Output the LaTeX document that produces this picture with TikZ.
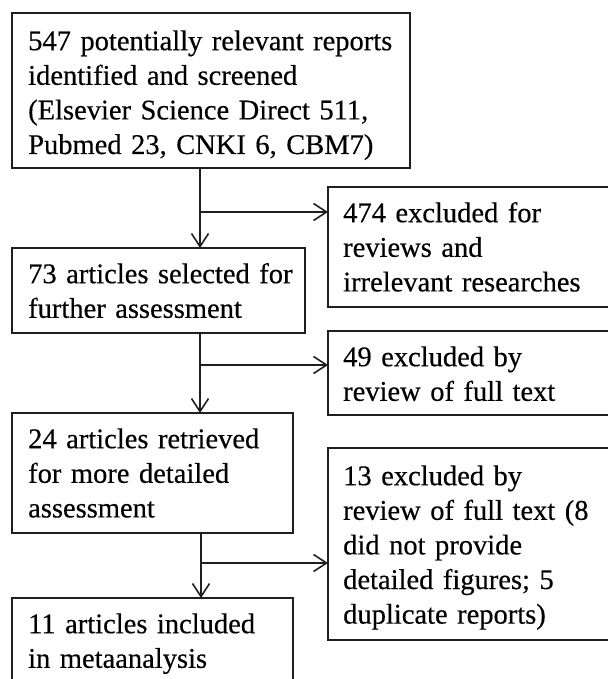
\documentclass[tikz,border=0pt]{standalone}
\usepackage{fontspec}
\setmainfont{Liberation Serif}
\newfontfamily\flowfont{Liberation Serif}[FakeBold=0.4]
\usetikzlibrary{arrows.meta}
\begin{document}
\begin{tikzpicture}[x=1pt,y=-1pt,
  box/.style={draw=black!88, line width=1.3pt, anchor=north west, inner sep=0pt, outer sep=0pt},
  txt/.style={anchor=north west, inner sep=0pt, align=left, text width=420pt, font=\flowfont\fontsize{28.5}{34.6}\selectfont, text=black},
  conn/.style={draw=black!88, line width=1.6pt},
  arr/.style={conn, -{Straight Barb[length=13pt,width=17pt,line width=1.6pt]}}]
\useasboundingbox (0,0) rectangle (607,679);
% boxes
\node[box, minimum width=398pt, minimum height=155pt] (b1) at (12,13) {};
\node[box, minimum width=293pt, minimum height=85pt]  (b2) at (12,248) {};
\node[box, minimum width=281pt, minimum height=120pt] (b3) at (12,413) {};
\node[box, minimum width=281pt, minimum height=92pt]  (b4) at (12,598) {};
\node[box, minimum width=292pt, minimum height=120pt] (r1) at (328,187) {};
\node[box, minimum width=292pt, minimum height=84pt]  (r2) at (328,331) {};
\node[box, minimum width=292pt, minimum height=192pt] (r3) at (328,448) {};
% texts
\node[txt] (t1) at (28,25.78) {\strut 547 potentially relevant reports\\identified and screened\\(Elsevier Science Direct 511,\\Pubmed 23, CNKI 6, CBM7)};
\node[txt] (t2) at (28,258.78) {\strut 73 articles selected for\\further assessment};
\node[txt] (t3) at (28,423.78) {\strut 24 articles retrieved\\for more detailed\\assessment};
\node[txt] (t4) at (28,608.78) {\strut 11 articles included\\in metaanalysis};
\node[txt] (u1) at (343,197.78) {\strut 474 excluded for\\reviews and\\irrelevant researches};
\node[txt] (u2) at (343,341.78) {\strut 49 excluded by\\review of full text};
\node[txt] (u3) at (343,460.78) {\strut 13 excluded by\\review of full text (8\\did not provide\\detailed figures; 5\\duplicate reports)};
% connectors
\coordinate (c1) at (200,212);
\coordinate (c2) at (200,365);
\coordinate (c3) at (201,563);
\draw[arr] (b1.south -| c1) -- (b2.north -| c1);
\draw[arr] (c1) -- (r1.west |- c1);
\draw[arr] (b2.south -| c2) -- (b3.north -| c2);
\draw[arr] (c2) -- (r2.west |- c2);
\draw[arr] (b3.south -| c3) -- (b4.north -| c3);
\draw[arr] (c3) -- (r3.west |- c3);
\end{tikzpicture}
\end{document}
